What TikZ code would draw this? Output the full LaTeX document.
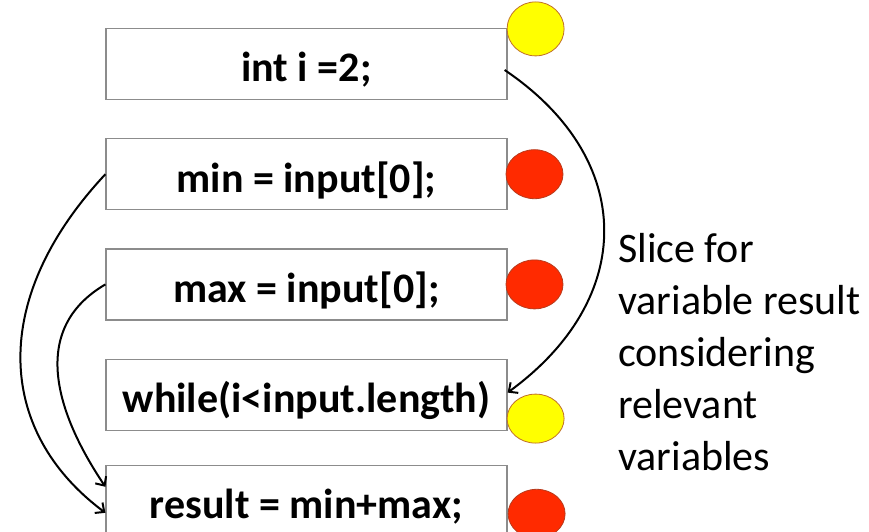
\documentclass[tikz,border=0pt]{standalone}
\usepackage{fontspec}
\setmainfont{Carlito}
\usepackage{xcolor}
\usetikzlibrary{arrows.meta,positioning,shapes.geometric}

\definecolor{boxgray}{HTML}{8C8C8C}
\definecolor{ballred}{HTML}{FF2A00}
\definecolor{ballredline}{HTML}{B83A1C}
\definecolor{ballyellow}{HTML}{FFFF00}
\definecolor{ballyellowline}{HTML}{C0702A}

\begin{document}
\begin{tikzpicture}[x=1pt, y=1pt, node distance=38pt,
  stmt/.style={draw=boxgray, line width=1.2pt, minimum width=401pt, minimum height=71pt, inner sep=0pt, text height=38pt, text depth=2pt, font=\fontsize{42}{50}\selectfont\bfseries},
  ball/.style={ellipse, minimum width=57pt, minimum height=49pt, inner sep=0pt, line width=0.8pt},
  redball/.style={ball, fill=ballred, draw=ballredline},
  yellowball/.style={ball, fill=ballyellow, draw=ballyellowline},
  dep/.style={line width=2pt, -{Straight Barb[length=7pt,width=13pt]}}]
\useasboundingbox (0,0) rectangle (869,531);
% the statements
\node[stmt] (init) at (306.5,467) {int i =2;};
\node[stmt, below=of init] (min) {min = input[0];};
\node[stmt, below=of min] (max) {max = input[0];};
\node[stmt, below=of max] (loop) {while(i<input.length)};
\node[stmt, below=34pt of loop] (res) {result = min+max;};
% markers beside each statement
\node[yellowball, minimum height=54pt] (m1) at ([xshift=28pt,yshift=-1pt]init.north east) {};
\node[redball, right=-2pt of min] (m2) {};
\node[redball, right=-2pt of max] (m3) {};
\node[yellowball] (m4) at ([xshift=28pt,yshift=-24pt]loop.east) {};
\node[redball] (m5) at ([xshift=29pt,yshift=-13pt]res.east) {};
% dependences
\draw[dep] ([xshift=-3pt,yshift=-6pt]init.east) .. controls +(132,-89) and +(129,94) .. ([yshift=2pt]loop.east);
\draw[dep] (min.west) .. controls +(-116,-124) and +(-110,82) .. ([yshift=-12pt]res.west);
\draw[dep] (max.west) .. controls +(-77,-45) and +(-49,73) .. ([yshift=14pt]res.west);
\node[anchor=base west, align=left, inner sep=0pt, font=\fontsize{42}{52}\selectfont] (note) at (618,61) {Slice for\\variable result\\considering\\relevant\\variables};
\end{tikzpicture}
\end{document}
